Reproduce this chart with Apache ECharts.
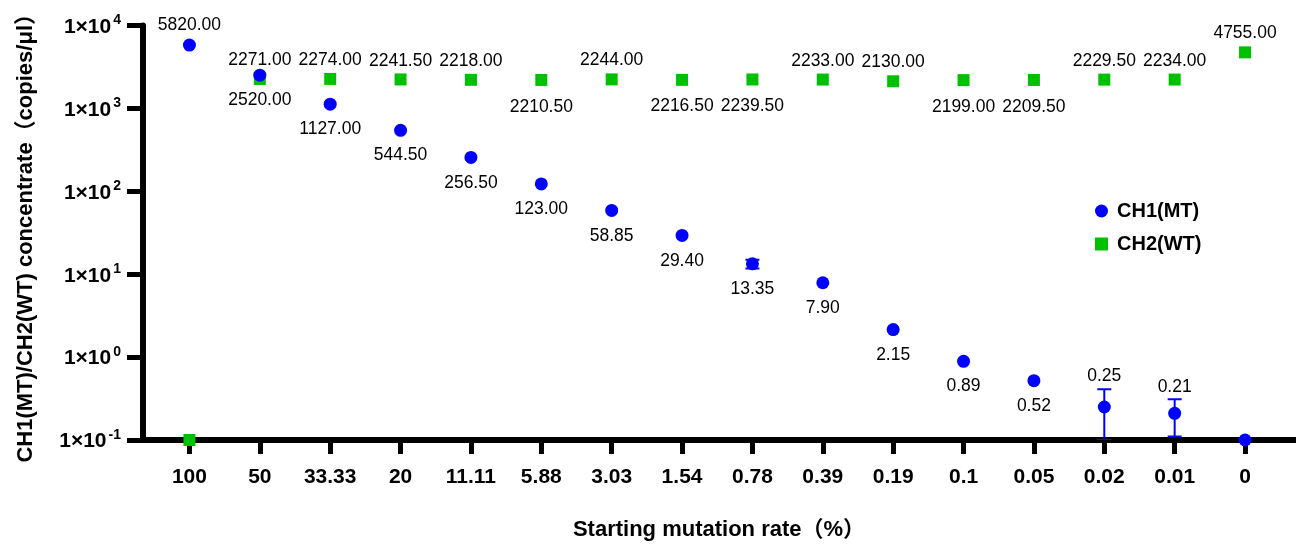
<!DOCTYPE html>
<html>
<head>
<meta charset="utf-8">
<script src="https://cdn.jsdelivr.net/npm/echarts@6/dist/echarts.min.js"></script>
<style>html,body{margin:0;padding:0;background:#fff}#c{width:1296px;height:546px}</style>
</head>
<body>
<div id="c"></div>
<script>
// ---- data ----
const categories = ['100','50','33.33','20','11.11','5.88','3.03','1.54','0.78','0.39','0.19','0.1','0.05','0.02','0.01','0'];
const ch1Values = [5820, 2520, 1127, 544.5, 256.5, 123, 58.85, 29.4, 13.35, 7.9, 2.15, 0.89, 0.52, 0.25, 0.21, 0];
const ch2Values = [0, 2271, 2274, 2241.5, 2218, 2210.5, 2244, 2216.5, 2239.5, 2233, 2130, 2199, 2209.5, 2229.5, 2234, 4755];
const ch1Err = [0, 0, 0, 0, 0, 0, 0, 0, 1.6, 0, 0, 0, 0, 0.16, 0.1, 0];
const yTickValues = [0.1, 1, 10, 100, 1000, 10000];

// label placement (style)
const ch1LabelPos = ['top','bottom','bottom','bottom','bottom','bottom','bottom','bottom','bottom','bottom','bottom','bottom','bottom','top','top','top'];
const ch1LabelDist = [5, 10, 10, 10, 10, 10, 10, 10, 10, 10, 10, 10, 10, 16, 11, 5];
const ch2LabelPos = ['top','top','top','top','top','bottom','top','bottom','bottom','top','top','bottom','bottom','top','top','top'];
const ch2LabelDist = [3, 4, 4, 4, 4, 12, 4, 12, 12, 4, 4, 12, 12, 4, 4, 4];

const Y_MIN = 0.1, Y_MAX = 10000;
const FONT = '"Liberation Sans", Arial, "Noto Sans CJK SC", sans-serif';
const BLUE = '#0000ff', GREEN = '#00c000';

function buildPoints(vals, pos, dist) {
  return vals.map((v, i) => {
    const shown = v > 0;
    return {
      value: [i, shown ? v : Y_MIN],
      label: {
        show: shown,
        position: pos[i],
        distance: dist[i],
        formatter: v.toFixed(2)
      }
    };
  });
}

const errData = ch1Values.map((v, i) => [i, v, Math.max(v - ch1Err[i], Y_MIN), v + ch1Err[i]]).filter((d, i) => ch1Err[i] > 0);

const chart = echarts.init(document.getElementById('c'), null, {renderer: 'canvas'});
chart.setOption({
  animation: false,
  backgroundColor: '#fff',
  textStyle: {fontFamily: FONT},
  grid: {left: 143, right: 1, top: 22, bottom: 106, containLabel: false},
  legend: {
    orient: 'vertical',
    left: 1090, top: 196,
    itemGap: 13,
    itemWidth: 13, itemHeight: 13,
    textStyle: {fontFamily: FONT, fontSize: 20, fontWeight: 'bold', color: '#000', padding: [0, 0, 0, 4]},
    data: [{name: 'CH1(MT)', icon: 'circle'}, {name: 'CH2(WT)', icon: 'rect'}]
  },
  xAxis: {
    type: 'value',
    min: -0.66, max: 15.71,
    splitLine: {show: false},
    axisLine: {onZero: false, lineStyle: {color: '#000', width: 6}},
    axisTick: {show: true, customValues: categories.map((c, i) => i), length: 14, lineStyle: {color: '#000', width: 5}},
    axisLabel: {
      customValues: categories.map((c, i) => i),
      formatter: v => categories[Math.round(v)],
      margin: 27,
      fontFamily: FONT, fontSize: 21, fontWeight: 'bold', color: '#000'
    },
    name: 'Starting mutation rate（%）',
    nameLocation: 'middle',
    nameGap: 79,
    nameTextStyle: {fontFamily: FONT, fontSize: 22, fontWeight: 'bold', color: '#000'}
  },
  yAxis: {
    type: 'log', logBase: 10,
    min: Y_MIN, max: Y_MAX,
    splitLine: {show: false},
    axisLine: {show: true, onZero: false, lineStyle: {color: '#000', width: 6}},
    axisTick: {show: true, customValues: yTickValues, length: 16, lineStyle: {color: '#000', width: 5}},
    axisLabel: {
      customValues: yTickValues,
      margin: 22,
      formatter: v => '{a|1×10}{b|' + Math.round(Math.log10(v)) + '}',
      rich: {
        a: {fontFamily: FONT, fontSize: 21, fontWeight: 'bold', color: '#000', lineHeight: 24, verticalAlign: 'bottom'},
        b: {fontFamily: FONT, fontSize: 14, fontWeight: 'bold', color: '#000', lineHeight: 24, verticalAlign: 'top', padding: [0, 0, 8, 2]}
      }
    },
    name: 'CH1(MT)/CH2(WT) concentrate（copies/μl）',
    nameLocation: 'middle',
    nameGap: 106,
    nameTextStyle: {fontFamily: FONT, fontSize: 22, fontWeight: 'bold', color: '#000'}
  },
  series: [
    {
      name: 'CH1(MT) err',
      type: 'custom',
      data: errData,
      z: 3,
      clip: true,
      renderItem: function (params, api) {
        const x = api.value(0);
        const lo = api.coord([x, api.value(2)]);
        const hi = api.coord([x, api.value(3)]);
        const half = 7;
        const style = {stroke: BLUE, lineWidth: 2};
        return {
          type: 'group',
          children: [
            {type: 'line', shape: {x1: lo[0], y1: lo[1], x2: hi[0], y2: hi[1]}, style: style},
            {type: 'line', shape: {x1: hi[0] - half, y1: hi[1], x2: hi[0] + half, y2: hi[1]}, style: style},
            {type: 'line', shape: {x1: lo[0] - half, y1: lo[1], x2: lo[0] + half, y2: lo[1]}, style: style}
          ]
        };
      }
    },
    {
      name: 'CH2(WT)',
      type: 'scatter',
      symbol: 'rect',
      symbolSize: 12,
      clip: false,
      z: 4,
      itemStyle: {color: GREEN, opacity: 1},
      label: {fontFamily: FONT, fontSize: 17.5, color: '#000'},
      data: buildPoints(ch2Values, ch2LabelPos, ch2LabelDist)
    },
    {
      name: 'CH1(MT)',
      type: 'scatter',
      symbol: 'circle',
      symbolSize: 13,
      clip: false,
      z: 5,
      itemStyle: {color: BLUE, opacity: 1},
      label: {fontFamily: FONT, fontSize: 17.5, color: '#000'},
      data: buildPoints(ch1Values, ch1LabelPos, ch1LabelDist)
    }
  ]
});
</script>
</body>
</html>
